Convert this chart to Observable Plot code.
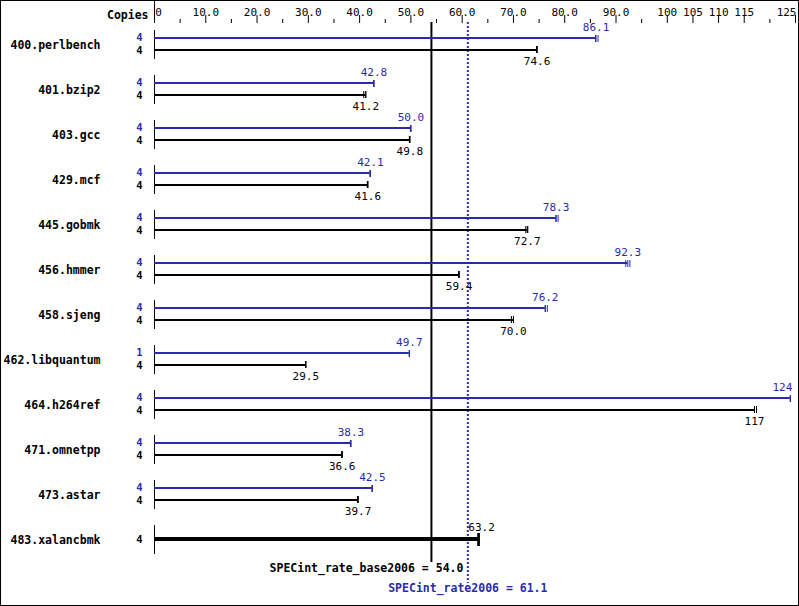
<!DOCTYPE html>
<html>
<head>
<meta charset="utf-8">
<script src="https://cdn.jsdelivr.net/npm/d3@7"></script>
<script src="https://cdn.jsdelivr.net/npm/@observablehq/plot@0.6"></script>
<style>
  html, body { margin: 0; padding: 0; background: white; }
  #chart svg { display: block; }
</style>
</head>
<body>
<div id="chart"></div>
<script>
// ---- data ----
const benchmarks = ["400.perlbench", "401.bzip2", "403.gcc", "429.mcf", "445.gobmk", "456.hmmer",
  "458.sjeng", "462.libquantum", "464.h264ref", "471.omnetpp", "473.astar", "483.xalancbmk"];
const copiesPeak = [4, 4, 4, 4, 4, 4, 4, 1, 4, 4, 4, null];
const copiesBase = [4, 4, 4, 4, 4, 4, 4, 4, 4, 4, 4, 4];
const peakValues = [86.1, 42.8, 50.0, 42.1, 78.3, 92.3, 76.2, 49.7, 124, 38.3, 42.5, null];
const baseValues = [74.6, 41.2, 49.8, 41.6, 72.7, 59.4, 70.0, 29.5, 117, 36.6, 39.7, 63.2];
// individual run results (end-of-bar marks)
const peakRuns = [[86.1, 86.5, 86.0], [42.8, 42.8, 42.7], [50.0, 50.0, 49.9], [42.1, 42.1, 42.0],
  [78.3, 78.7, 78.3], [91.9, 92.3, 92.7], [76.2, 76.6, 76.2], [49.7, 49.7, 49.7],
  [124, 124, 124], [38.3, 38.3, 38.2], [42.5, 42.5, 42.4], null];
const baseRuns = [[74.6, 74.6, 74.5], [41.2, 40.8, 41.2], [49.8, 49.8, 49.7], [41.6, 41.6, 41.5],
  [72.7, 72.4, 72.8], [59.4, 59.4, 59.3], [70.0, 69.6, 70.0], [29.5, 29.5, 29.5],
  [117, 117.4, 117], [36.6, 36.6, 36.5], [39.7, 39.7, 39.6], [63.2, 63.2, 63.2]];
const tickValues = [0, 5, 10, 15, 20, 25, 30, 35, 40, 45, 50, 55, 60, 65, 70, 75, 80, 85, 90, 95, 100, 105, 110, 115, 120, 125];
const tickLabels = [
  {v: 0, t: "0"}, {v: 10, t: "10.0"}, {v: 20, t: "20.0"}, {v: 30, t: "30.0"}, {v: 40, t: "40.0"},
  {v: 50, t: "50.0"}, {v: 60, t: "60.0"}, {v: 70, t: "70.0"}, {v: 80, t: "80.0"}, {v: 90, t: "90.0"},
  {v: 100, t: "100"}, {v: 105, t: "105"}, {v: 110, t: "110"}, {v: 115, t: "115"}, {v: 125, t: "125"}];
const baseScore = 54.0;
const peakScore = 61.1;
const baseScoreLabel = "SPECint_rate_base2006 = 54.0";
const peakScoreLabel = "SPECint_rate2006 = 61.1";

// ---- derived tables ----
const BLUE = "#2a2aaa";
const rows = benchmarks.map((name, i) => ({
  name, peak: peakValues[i], base: baseValues[i], cp: copiesPeak[i], cb: copiesBase[i]
}));
const paired = rows.filter(d => d.peak != null);
const single = rows.filter(d => d.peak == null);
const peakRunMarks = [];
const baseRunMarks = [];
benchmarks.forEach((name, i) => {
  if (peakRuns[i]) peakRuns[i].forEach(v => peakRunMarks.push({name, v}));
  if (baseRuns[i]) baseRuns[i].forEach(v => baseRunMarks.push({name, v, single: peakValues[i] == null}));
});
const fmt = v => v >= 100 ? String(Math.round(v)) : v.toFixed(1);
const majorTicks = tickLabels.map(d => d.v);
const xMax = tickValues[tickValues.length - 1];

const chart = Plot.plot({
  width: 799,
  height: 606,
  marginLeft: 154,
  marginRight: 4,
  marginTop: 22,
  marginBottom: 44,
  x: {domain: [0, xMax], axis: null},
  y: {type: "band", domain: benchmarks, padding: 0, axis: null},
  style: {fontFamily: "DejaVu Sans Mono", fontSize: "11px", background: "white", color: "black"},
  marks: [
    // axis ticks
    Plot.axisX(tickValues.filter(v => !majorTicks.includes(v)), {anchor: "top", tickSize: 4, tickFormat: () => "", strokeWidth: 1}),
    Plot.axisX(majorTicks.filter(v => v !== 0), {anchor: "top", tickSize: 8, tickFormat: () => "", strokeWidth: 1}),
    Plot.axisX([0], {anchor: "top", tickSize: 22, tickFormat: () => "", strokeWidth: 1}),
    Plot.text(tickLabels.filter(d => d.v !== 0 && d.v !== xMax), {x: "v", text: "t", frameAnchor: "top", dy: -14, fontSize: 11}),
    Plot.text(tickLabels.filter(d => d.v === 0), {x: "v", text: "t", frameAnchor: "top", dy: -14, dx: 4, fontSize: 11}),
    Plot.text(tickLabels.filter(d => d.v === xMax), {x: "v", text: "t", frameAnchor: "top", dy: -14, dx: 1, textAnchor: "end", fontSize: 11}),
    Plot.text(["Copies"], {frameAnchor: "top-left", dx: -6, dy: -12, textAnchor: "end", fontWeight: "bold", text: d => d, fontSize: 11.5}),

    // reference lines
    Plot.ruleX([baseScore], {strokeWidth: 2, stroke: "black"}),
    Plot.ruleX([peakScore], {strokeWidth: 2, stroke: BLUE, strokeDasharray: "2,2", insetBottom: -21}),

    // row start lines
    Plot.tickX(rows, {x: () => 0, y: "name", insetTop: 8, insetBottom: 8, stroke: "black"}),

    // peak bars
    Plot.ruleY(paired, {y: "name", x1: 0, x2: "peak", dy: -7, stroke: BLUE, strokeWidth: 2}),
    Plot.tickX(peakRunMarks, {x: "v", y: "name", insetTop: 13, insetBottom: 25, stroke: BLUE, strokeWidth: 1}),
    // base bars
    Plot.ruleY(paired, {y: "name", x1: 0, x2: "base", dy: 5, stroke: "black", strokeWidth: 2}),
    Plot.tickX(baseRunMarks.filter(d => !d.single), {x: "v", y: "name", insetTop: 24, insetBottom: 14, stroke: "black", strokeWidth: 1}),
    // base == peak (single thick bar)
    Plot.ruleY(single, {y: "name", x1: 0, x2: "base", dy: -1, stroke: "black", strokeWidth: 4}),
    Plot.tickX(baseRunMarks.filter(d => d.single), {x: "v", y: "name", insetTop: 16, insetBottom: 16, stroke: "black", strokeWidth: 2}),

    // value labels
    Plot.text(paired.filter(d => d.peak < 120), {x: "peak", y: "name", dy: -18, text: d => fmt(d.peak), fill: BLUE}),
    Plot.text(paired.filter(d => d.peak >= 120), {x: "peak", y: "name", dy: -18, dx: 2, textAnchor: "end", text: d => fmt(d.peak), fill: BLUE}),
    Plot.text(paired, {x: "base", y: "name", dy: 16, text: d => fmt(d.base), fill: "black"}),
    Plot.text(single, {x: "base", y: "name", dy: -13, dx: 3, text: d => fmt(d.base), fill: "black"}),

    // benchmark names and copies
    Plot.text(rows, {x: () => 0, y: "name", dx: -54, textAnchor: "end", text: "name", fontWeight: "bold", fontSize: 11.5}),
    Plot.text(paired, {x: () => 0, y: "name", dx: -12, dy: -7.5, textAnchor: "end", text: d => String(d.cp), fill: BLUE, fontWeight: "bold", fontSize: 10.5}),
    Plot.text(paired, {x: () => 0, y: "name", dx: -12, dy: 5.5, textAnchor: "end", text: d => String(d.cb), fontWeight: "bold", fontSize: 10.5}),
    Plot.text(single, {x: () => 0, y: "name", dx: -12, textAnchor: "end", text: d => String(d.cb), fontWeight: "bold", fontSize: 10.5}),

    // score labels
    Plot.text([baseScoreLabel], {x: () => baseScore, frameAnchor: "bottom", dy: 9, dx: 32, textAnchor: "end", text: d => d, fontWeight: "bold", fontSize: 11.5}),
    Plot.text([peakScoreLabel], {x: () => peakScore, frameAnchor: "bottom", dy: 29, text: d => d, fill: BLUE, fontWeight: "bold", fontSize: 11.5})
  ]
});
document.getElementById("chart").appendChild(chart);
// outer border of the image
d3.select(chart).append("rect")
  .attr("x", 0.5).attr("y", 0.5).attr("width", 798).attr("height", 605)
  .attr("fill", "none").attr("stroke", "black");
</script>
</body>
</html>
